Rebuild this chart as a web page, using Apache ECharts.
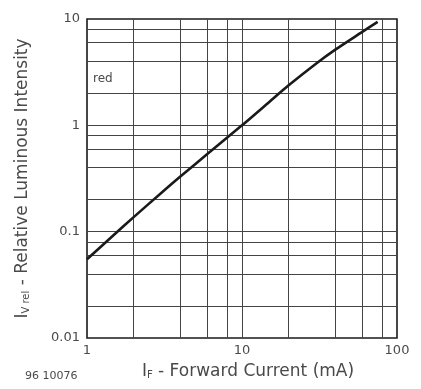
<!DOCTYPE html>
<html>
<head>
<meta charset="utf-8">
<script src="https://cdn.jsdelivr.net/npm/echarts@6/dist/echarts.min.js"></script>
<style>
html,body{margin:0;padding:0;background:#fff;}
#c{width:421px;height:389px;}
</style>
</head>
<body>
<div id="c"></div>
<script>
// Forward current (mA) and relative luminous intensity
const forwardCurrent = [1, 1.5, 2, 3, 4, 6, 10, 15, 20, 30, 40, 60, 75];
const relIntensity   = [0.055, 0.094, 0.137, 0.23, 0.33, 0.54, 1.0, 1.66, 2.38, 3.8, 5.15, 7.6, 9.4];
// Grid lines of the log paper
const xGridValues = [2, 4, 6, 8, 10, 20, 40, 60, 80];
const yGridValues = [0.02, 0.04, 0.06, 0.08, 0.1, 0.2, 0.4, 0.6, 0.8, 1, 2, 4, 6, 8];
const seriesLabel = 'red';
const docNumber = '96 10076';

const FONT = 'DejaVu Sans, Liberation Sans, Arial, sans-serif';
const TXT = '#4a4a4a';
const chart = echarts.init(document.getElementById('c'));
chart.setOption({
  animation: false,
  backgroundColor: '#fff',
  grid: {left: 87, right: 24, top: 19, bottom: 51, show: true, borderColor: '#1a1a1a', borderWidth: 1.6},
  xAxis: {
    type: 'log', logBase: 10, min: 1, max: 100,
    axisLine: {show: false}, axisTick: {show: false},
    splitLine: {show: false},
    axisLabel: {color: TXT, fontSize: 13, fontFamily: FONT, margin: 6},
    name: '{m|I}{s|F}{m| - Forward Current (mA)}',
    nameLocation: 'middle', nameGap: 25,
    nameTextStyle: {
      padding: [0, 0, 0, 12],
      rich: {
        m: {fontSize: 17, color: TXT, fontFamily: FONT},
        s: {fontSize: 10, color: TXT, fontFamily: FONT, verticalAlign: 'bottom', padding: [7, 0, 0, 0]}
      }
    }
  },
  yAxis: {
    type: 'log', logBase: 10, min: 0.01, max: 10,
    axisLine: {show: false}, axisTick: {show: false},
    splitLine: {show: false},
    axisLabel: {color: TXT, fontSize: 13, fontFamily: FONT, margin: 7,
      formatter: v => String(v)},
    name: '{m|I}{s|V rel}{m| - Relative Luminous Intensity}',
    nameLocation: 'middle', nameGap: 56,
    nameTextStyle: {
      rich: {
        m: {fontSize: 17, color: TXT, fontFamily: FONT},
        s: {fontSize: 10, color: TXT, fontFamily: FONT, verticalAlign: 'bottom', padding: [7, 0, 0, 0]}
      }
    }
  },
  graphic: [
    {type: 'text', left: 93, top: 73, style: {text: seriesLabel, fontSize: 12, fill: TXT, fontFamily: FONT}},
    {type: 'text', left: 25, top: 371, style: {text: docNumber, fontSize: 11, fill: TXT, fontFamily: FONT}}
  ],
  series: [{
    type: 'line',
    data: forwardCurrent.map((x, i) => [x, relIntensity[i]]),
    showSymbol: false,
    smooth: 0.3,
    lineStyle: {color: '#1a1a1a', width: 2.6},
    z: 5,
    markLine: {
      silent: true, symbol: 'none', label: {show: false},
      lineStyle: {color: '#444', width: 1, type: 'solid'},
      z: 1,
      data: xGridValues.map(v => ({xAxis: v})).concat(yGridValues.map(v => ({yAxis: v})))
    }
  }]
});
</script>
</body>
</html>
